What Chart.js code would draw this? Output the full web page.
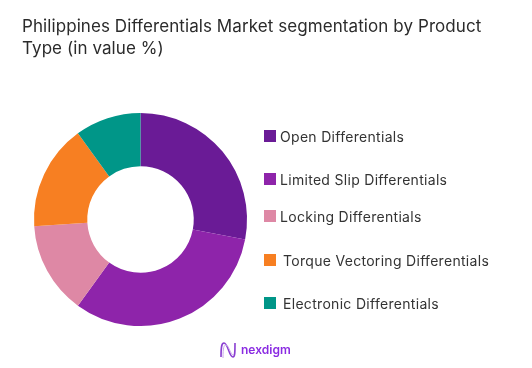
<!DOCTYPE html>
<html>
<head>
<meta charset="utf-8">
<script src="https://cdn.jsdelivr.net/npm/chart.js@4"></script>
<style>
  html, body { margin: 0; padding: 0; background: #fff; }
  #wrap { position: relative; width: 532px; height: 368px; overflow: hidden; font-family: Inter, sans-serif; color: #2b2b2b; }
  #chart { position: absolute; left: 0; top: 0; }
  #title { position: absolute; left: 22px; top: 15px; width: 505px; font-size: 17px; line-height: 22px; letter-spacing: 0.08px; }
  .row { position: absolute; height: 16px; line-height: 16px; font-size: 14px; letter-spacing: 0.3px; white-space: nowrap; color: #333; }
  .box { position: absolute; left: 264px; width: 12px; height: 12px; }
  #logo { position: absolute; left: 218px; top: 340px; }
  #logoText { position: absolute; left: 241px; top: 341px; font-size: 12px; line-height: 18px; font-weight: 600; color: #8a2be2; }
</style>
</head>
<body>
<div id="wrap">
  <canvas id="chart" width="532" height="368"></canvas>
  <div id="title">Philippines Differentials Market segmentation by Product<br>Type (in value %)</div>
  <div id="legend"></div>
  <svg id="logo" width="20" height="20" viewBox="0 0 20 20" fill="none">
    <path d="M3 17 C3 5 4 3 6 3 C10 3 11 17 15 17 C17 17 17 12 17 3" stroke="#8a3fd1" stroke-width="1.6"/>
    <path d="M5 18 C5 7 6 5 8 5 C11 5 12 15 16 15" stroke="#c9a6ea" stroke-width="1"/>
  </svg>
  <div id="logoText">nexdigm</div>
</div>
<script>
const categories = ['Open Differentials', 'Limited Slip Differentials', 'Locking Differentials', 'Torque Vectoring Differentials', 'Electronic Differentials'];
const shares = [28, 32, 14, 16, 10];
const colors = ['#6a1b96', '#8e24aa', '#de88a5', '#f77f22', '#009688'];

// legend rows are not evenly spaced in the original
const legendY = [129, 172, 209, 253, 296];
const legendX = [280, 280, 280, 283, 283];

const legend = document.getElementById('legend');
categories.forEach((name, i) => {
    const box = document.createElement('div');
    box.className = 'box';
    box.style.top = (legendY[i] + 1) + 'px';
    box.style.background = colors[i];
    legend.appendChild(box);

    const row = document.createElement('div');
    row.className = 'row';
    row.style.left = legendX[i] + 'px';
    row.style.top = legendY[i] + 'px';
    row.textContent = name;
    legend.appendChild(row);
});

new Chart(document.getElementById('chart').getContext('2d'), {
    type: 'doughnut',
    data: {
        labels: categories,
        datasets: [{
            data: shares,
            backgroundColor: colors,
            borderWidth: 0,
        }],
    },
    options: {
        responsive: false,
        animation: false,
        cutout: '50%',
        layout: {
            padding: { left: 34, top: 113, right: 285, bottom: 42 },
        },
        plugins: {
            legend: { display: false },
            title: { display: false },
            tooltip: { enabled: false },
        },
    },
});
</script>
</body>
</html>
